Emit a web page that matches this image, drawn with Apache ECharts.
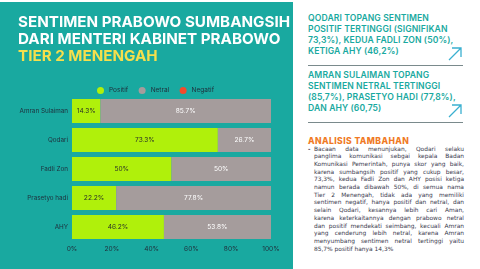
<!DOCTYPE html>
<html>
<head>
<meta charset="utf-8">
<script src="https://cdn.jsdelivr.net/npm/echarts@6/dist/echarts.min.js"></script>
<style>
  html, body { margin: 0; padding: 0; width: 480px; height: 269px; background: #fff; overflow: hidden; }
  #panel { position: absolute; left: 0; top: 2px; width: 293px; height: 267px; background: #19a9a0; }
  #chart { width: 293px; height: 267px; }
  #side { position: absolute; left: 308px; top: 0; width: 156px; font-family: Inter, "Noto Sans", sans-serif; }
  .point { position: absolute; left: 0; width: 156px; color: #19a9a0; font-size: 8.6px; font-weight: 600; line-height: 11px; letter-spacing: 0.1px; white-space: nowrap; }
  .rule { position: absolute; left: 0; width: 155px; height: 0; border-top: 1px solid #7a8a8c; }
  .arrow { position: absolute; left: 140px; width: 14px; height: 14px; }
  #extra { position: absolute; left: 0; top: 136px; color: #f07a25; font-weight: 800; font-size: 8.6px; letter-spacing: 0.4px; }
  #body { position: absolute; left: 0; top: 145.5px; width: 156px; color: #3a3a4e; font-family: "DejaVu Sans", sans-serif; font-size: 5.9px; line-height: 7.7px; }
  #body .dot { position: absolute; left: 0; top: 0; font-weight: bold; }
  #body .ln { display: block; margin-left: 6px; text-align: justify; text-align-last: justify; white-space: nowrap; }
  #body .ln.end { text-align-last: left; }
</style>
</head>
<body>
<div id="panel"><div id="chart"></div></div>
<div id="side">
  <div class="point" style="top:12.5px">QODARI TOPANG SENTIMEN<br>POSITIF TERTINGGI (SIGNIFIKAN<br>73,3%), KEDUA FADLI ZON (50%),<br>KETIGA AHY (46,2%)</div>
  <svg class="arrow" style="top:47px" viewBox="0 0 14 14"><path d="M1 13 L13 1 M4 1 L13 1 L13 10" stroke="#3ab0d0" stroke-width="1.3" fill="none"/></svg>
  <div class="rule" style="top:65px"></div>
  <div class="point" style="top:69.5px">AMRAN SULAIMAN TOPANG<br>SENTIMEN NETRAL TERTINGGI<br>(85,7%), PRASETYO HADI (77,8%),<br>DAN AHY (60,75)</div>
  <svg class="arrow" style="top:104px" viewBox="0 0 14 14"><path d="M1 13 L13 1 M4 1 L13 1 L13 10" stroke="#3ab0d0" stroke-width="1.3" fill="none"/></svg>
  <div class="rule" style="top:122px"></div>
  <div id="extra">ANALISIS TAMBAHAN</div>
  <div id="body"><span class="dot">-</span>
    <span class="ln">Bacaan data menunjukan, Qodari selaku</span>
    <span class="ln">panglima komunikasi sebgai kepala Badan</span>
    <span class="ln">Komunikasi Pemerintah, punya skor yang baik,</span>
    <span class="ln">karena sumbangsih positif yang cukup besar,</span>
    <span class="ln">73,3%, kedua Fadli Zon dan AHY posisi ketiga</span>
    <span class="ln">namun berada dibawah 50%, di semua nama</span>
    <span class="ln">Tier 2 Menengah, tidak ada yang memiliki</span>
    <span class="ln">sentimen negatif, hanya positif dan netral, dan</span>
    <span class="ln">selain Qodari, kesannya lebih cari Aman,</span>
    <span class="ln">karena keterkaitannya dengan prabowo netral</span>
    <span class="ln">dan positif mendekati seimbang, kecuali Amran</span>
    <span class="ln">yang cenderung lebih netral, karena Amran</span>
    <span class="ln">menyumbang sentimen netral tertinggi yaitu</span>
    <span class="ln end">85,7% positif hanya 14,3%</span>
  </div>
</div>
<script>
// data
const names = ["Amran Sulaiman", "Qodari", "Fadli Zon", "Prasetyo hadi", "AHY"];
const positif = [14.3, 73.3, 50, 22.2, 46.2];
const netral = [85.7, 26.7, 50, 77.8, 53.8];
const negatif = [0, 0, 0, 0, 0];

let chart = echarts.init(document.getElementById("chart"), null, { renderer: "canvas" });
let font = "Inter, 'Noto Sans', sans-serif";

function pctLabel(color) {
    return {
        show: true,
        color: color,
        fontSize: 6.6,
        fontFamily: font,
        formatter: (p) => (p.value > 0 ? p.value + "%" : ""),
    };
}

chart.setOption({
    animation: false,
    title: {
        left: 13,
        top: 7,
        text: "{w|SENTIMEN PRABOWO SUMBANGSIH}\n{w|DARI MENTERI KABINET PRABOWO}\n{y|TIER 2 MENENGAH}",
        textStyle: {
            rich: {
                w: { color: "#ffffff", fontSize: 15.2, fontWeight: "bold", fontFamily: font, lineHeight: 17 },
                y: { color: "#f6df4c", fontSize: 15.2, fontWeight: "bold", fontFamily: font, lineHeight: 17 },
            },
        },
    },
    legend: {
        left: 92,
        top: 80,
        itemWidth: 7,
        itemHeight: 7,
        itemGap: 10.5,
        itemStyle: { borderWidth: 0 },
        icon: "circle",
        textStyle: { fontSize: 6.5, color: "#1f2d3a", fontFamily: font },
        data: ["Positif", "Netral", "Negatif"],
    },
    grid: { left: 72, right: 22, top: 94.5, bottom: 27.5 },
    xAxis: {
        type: "value",
        min: 0,
        max: 100,
        interval: 20,
        splitLine: { show: false },
        axisLine: { show: false },
        axisTick: { show: false },
        axisLabel: { fontSize: 6.6, color: "#1f2d3a", fontFamily: font, margin: 4, formatter: "{value}%" },
    },
    yAxis: {
        type: "category",
        inverse: true,
        data: names,
        axisLine: { show: false },
        axisTick: { show: false },
        axisLabel: { fontSize: 6.3, color: "#1f2d3a", fontFamily: font, margin: 4 },
    },
    series: [
        { name: "Positif", type: "bar", stack: "s", barWidth: 24, data: positif, itemStyle: { color: "#b0f00b" }, label: pctLabel("#2b3328") },
        { name: "Netral", type: "bar", stack: "s", barWidth: 24, data: netral, itemStyle: { color: "#a59c9c" }, label: pctLabel("#ffffff") },
        { name: "Negatif", type: "bar", stack: "s", barWidth: 24, data: negatif, itemStyle: { color: "#f24b2b" }, label: pctLabel("#ffffff") },
    ],
});
</script>
</body>
</html>
